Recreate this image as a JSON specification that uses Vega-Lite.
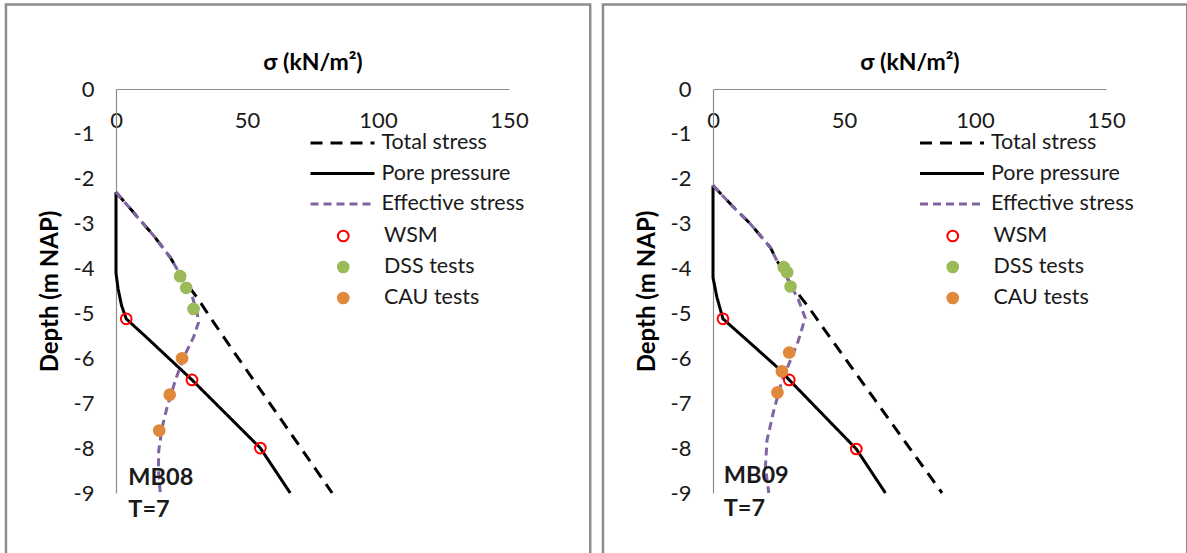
{
  "$schema": "https://vega.github.io/schema/vega-lite/v6.json",
  "padding": {"left": 4, "top": 3, "right": 0, "bottom": 0},
  "background": "white",
  "spacing": 9,
  "config": {"font": "Lato", "view": {"stroke": null},
    "axisX": {"orient": "top", "ticks": false, "tickSize": 0, "grid": false, "domainColor": "#8c8c8c", "domainWidth": 1.2,
      "labelPadding": -31, "labelBaseline": "middle", "labelFlush": false, "labelFontSize": 22, "labelColor": "#1a1a1a", "labelFont": "Lato",
      "titleFontSize": 23, "titleFontWeight": "bold", "titleColor": "#000000", "titleX": 196.5, "titleY": -27, "titleBaseline": "middle", "titleAlign": "center"},
    "axisY": {"orient": "left", "ticks": false, "tickSize": 0, "grid": false, "domainColor": "#8c8c8c", "domainWidth": 1.2,
      "labelPadding": 22, "labelFlush": false, "labelFontSize": 22, "labelColor": "#1a1a1a", "labelFont": "Lato",
      "titleFontSize": 24, "titleFontWeight": "bold", "titleColor": "#000000", "titleX": -66, "titleY": 202, "titleAngle": -90, "titleBaseline": "middle", "titleAlign": "center"},
    "legend": {"title": null, "orient": "none", "clipHeight": 20, "labelFontSize": 21.5, "labelFont": "Lato", "labelColor": "#1a1a1a", "padding": 0, "labelLimit": 300}
  },
  "datasets": {
    "lines": [
      {"p": "MB08", "s": "Total stress", "v": 0, "d": -2.3},
      {"p": "MB08", "s": "Total stress", "v": 6.7, "d": -2.75},
      {"p": "MB08", "s": "Total stress", "v": 14.4, "d": -3.27},
      {"p": "MB08", "s": "Total stress", "v": 20.7, "d": -3.75},
      {"p": "MB08", "s": "Total stress", "v": 25.2, "d": -4.2},
      {"p": "MB08", "s": "Total stress", "v": 30.9, "d": -4.64},
      {"p": "MB08", "s": "Total stress", "v": 36, "d": -5.09},
      {"p": "MB08", "s": "Total stress", "v": 45.5, "d": -5.9},
      {"p": "MB08", "s": "Total stress", "v": 58.2, "d": -6.96},
      {"p": "MB08", "s": "Total stress", "v": 70, "d": -7.95},
      {"p": "MB08", "s": "Total stress", "v": 82.5, "d": -9.0},
      {"p": "MB08", "s": "Pore pressure", "v": 0, "d": -2.3},
      {"p": "MB08", "s": "Pore pressure", "v": 0, "d": -4.1},
      {"p": "MB08", "s": "Pore pressure", "v": 0.8, "d": -4.45},
      {"p": "MB08", "s": "Pore pressure", "v": 2.1, "d": -4.82},
      {"p": "MB08", "s": "Pore pressure", "v": 3.9, "d": -5.12},
      {"p": "MB08", "s": "Pore pressure", "v": 11.6, "d": -5.53},
      {"p": "MB08", "s": "Pore pressure", "v": 29, "d": -6.48},
      {"p": "MB08", "s": "Pore pressure", "v": 55.1, "d": -8.0},
      {"p": "MB08", "s": "Pore pressure", "v": 66.5, "d": -9.0},
      {"p": "MB08", "s": "Effective stress", "v": 0, "d": -2.3},
      {"p": "MB08", "s": "Effective stress", "v": 6.7, "d": -2.75},
      {"p": "MB08", "s": "Effective stress", "v": 14.4, "d": -3.27},
      {"p": "MB08", "s": "Effective stress", "v": 20.7, "d": -3.75},
      {"p": "MB08", "s": "Effective stress", "v": 25.2, "d": -4.2},
      {"p": "MB08", "s": "Effective stress", "v": 29, "d": -4.6},
      {"p": "MB08", "s": "Effective stress", "v": 31, "d": -5.0},
      {"p": "MB08", "s": "Effective stress", "v": 31.5, "d": -5.2},
      {"p": "MB08", "s": "Effective stress", "v": 29.6, "d": -5.53},
      {"p": "MB08", "s": "Effective stress", "v": 25.8, "d": -5.98},
      {"p": "MB08", "s": "Effective stress", "v": 22.6, "d": -6.5},
      {"p": "MB08", "s": "Effective stress", "v": 19.5, "d": -7.09},
      {"p": "MB08", "s": "Effective stress", "v": 17.6, "d": -7.54},
      {"p": "MB08", "s": "Effective stress", "v": 16.3, "d": -8.06},
      {"p": "MB08", "s": "Effective stress", "v": 16.2, "d": -8.5},
      {"p": "MB08", "s": "Effective stress", "v": 16.9, "d": -9.0},
      {"p": "MB09", "s": "Total stress", "v": 0, "d": -2.15},
      {"p": "MB09", "s": "Total stress", "v": 7.3, "d": -2.6},
      {"p": "MB09", "s": "Total stress", "v": 14.2, "d": -3.0},
      {"p": "MB09", "s": "Total stress", "v": 21.9, "d": -3.53},
      {"p": "MB09", "s": "Total stress", "v": 24, "d": -3.78},
      {"p": "MB09", "s": "Total stress", "v": 28.9, "d": -4.27},
      {"p": "MB09", "s": "Total stress", "v": 32.3, "d": -4.55},
      {"p": "MB09", "s": "Total stress", "v": 36.5, "d": -4.86},
      {"p": "MB09", "s": "Total stress", "v": 42.4, "d": -5.35},
      {"p": "MB09", "s": "Total stress", "v": 61.5, "d": -6.9},
      {"p": "MB09", "s": "Total stress", "v": 87.4, "d": -9.0},
      {"p": "MB09", "s": "Pore pressure", "v": 0, "d": -2.15},
      {"p": "MB09", "s": "Pore pressure", "v": 0, "d": -4.2},
      {"p": "MB09", "s": "Pore pressure", "v": 1.5, "d": -4.64},
      {"p": "MB09", "s": "Pore pressure", "v": 3.8, "d": -5.12},
      {"p": "MB09", "s": "Pore pressure", "v": 14.6, "d": -5.68},
      {"p": "MB09", "s": "Pore pressure", "v": 25.3, "d": -6.24},
      {"p": "MB09", "s": "Pore pressure", "v": 29.1, "d": -6.48},
      {"p": "MB09", "s": "Pore pressure", "v": 54.7, "d": -8.02},
      {"p": "MB09", "s": "Pore pressure", "v": 65.8, "d": -9.0},
      {"p": "MB09", "s": "Effective stress", "v": 0, "d": -2.15},
      {"p": "MB09", "s": "Effective stress", "v": 7.3, "d": -2.6},
      {"p": "MB09", "s": "Effective stress", "v": 14.2, "d": -3.0},
      {"p": "MB09", "s": "Effective stress", "v": 21.9, "d": -3.53},
      {"p": "MB09", "s": "Effective stress", "v": 24, "d": -3.78},
      {"p": "MB09", "s": "Effective stress", "v": 28.9, "d": -4.27},
      {"p": "MB09", "s": "Effective stress", "v": 32.7, "d": -4.71},
      {"p": "MB09", "s": "Effective stress", "v": 35.2, "d": -5.1},
      {"p": "MB09", "s": "Effective stress", "v": 32.5, "d": -5.62},
      {"p": "MB09", "s": "Effective stress", "v": 29.5, "d": -6.05},
      {"p": "MB09", "s": "Effective stress", "v": 26.3, "d": -6.5},
      {"p": "MB09", "s": "Effective stress", "v": 23.2, "d": -7.16},
      {"p": "MB09", "s": "Effective stress", "v": 20.6, "d": -7.83},
      {"p": "MB09", "s": "Effective stress", "v": 20.0, "d": -8.43},
      {"p": "MB09", "s": "Effective stress", "v": 21.3, "d": -9.0}
    ],
    "pts": [
      {"p": "MB08", "t": "WSM", "v": 3.9, "d": -5.12},
      {"p": "MB08", "t": "WSM", "v": 29, "d": -6.48},
      {"p": "MB08", "t": "WSM", "v": 55.1, "d": -8.0},
      {"p": "MB08", "t": "DSS tests", "v": 24.5, "d": -4.17},
      {"p": "MB08", "t": "DSS tests", "v": 26.8, "d": -4.43},
      {"p": "MB08", "t": "DSS tests", "v": 29.6, "d": -4.9},
      {"p": "MB08", "t": "CAU tests", "v": 25.2, "d": -6.0},
      {"p": "MB08", "t": "CAU tests", "v": 20.5, "d": -6.81},
      {"p": "MB08", "t": "CAU tests", "v": 16.5, "d": -7.61},
      {"p": "MB09", "t": "WSM", "v": 3.8, "d": -5.12},
      {"p": "MB09", "t": "WSM", "v": 29.1, "d": -6.48},
      {"p": "MB09", "t": "WSM", "v": 54.7, "d": -8.02},
      {"p": "MB09", "t": "DSS tests", "v": 27, "d": -3.97},
      {"p": "MB09", "t": "DSS tests", "v": 28.3, "d": -4.08},
      {"p": "MB09", "t": "DSS tests", "v": 29.6, "d": -4.4},
      {"p": "MB09", "t": "CAU tests", "v": 29.1, "d": -5.87},
      {"p": "MB09", "t": "CAU tests", "v": 26.3, "d": -6.29},
      {"p": "MB09", "t": "CAU tests", "v": 24.6, "d": -6.76}
    ],
    "labels": [
      {"p": "MB08", "txt": "MB08", "v": 4.7, "d": -8.66},
      {"p": "MB08", "txt": "T=7", "v": 4.7, "d": -9.38},
      {"p": "MB09", "txt": "MB09", "v": 4.1, "d": -8.62},
      {"p": "MB09", "txt": "T=7", "v": 4.1, "d": -9.35}
    ],
    "frame": [
      {"x1": -42, "x2": 181, "y1": 1.88, "y2": -10.6}
    ]
  },
  "hconcat": [
    {
      "width": 393,
      "height": 404,
      "layer": [
        {
          "data": {"name": "frame"},
          "mark": {"type": "rect", "filled": false, "stroke": "#8c8c8c", "strokeWidth": 2.5, "clip": false},
          "encoding": {
            "x": {"field": "x1", "type": "quantitative", "scale": {"domain": [0, 150], "nice": false}, "title": "σ (kN/m²)",
              "axis": {"values": [0, 50, 100, 150]}},
            "x2": {"field": "x2"},
            "y": {"field": "y1", "type": "quantitative", "scale": {"domain": [-9, 0], "nice": false}, "title": "Depth (m NAP)",
              "axis": {"values": [0, -1, -2, -3, -4, -5, -6, -7, -8, -9], "labelExpr": "'' + datum.value"}},
            "y2": {"field": "y2"}
          }
        },
        {
          "data": {"name": "lines"},
          "transform": [{"filter": "datum.p === 'MB08'"}],
          "mark": {"type": "line", "strokeWidth": 3},
          "encoding": {
            "x": {"field": "v", "type": "quantitative", "scale": {"domain": [0, 150], "nice": false}, "title": "σ (kN/m²)",
              "axis": {"values": [0, 50, 100, 150]}},
            "y": {"field": "d", "type": "quantitative", "scale": {"domain": [-9, 0], "nice": false}, "title": "Depth (m NAP)",
              "axis": {"values": [0, -1, -2, -3, -4, -5, -6, -7, -8, -9], "labelExpr": "'' + datum.value"}},
            "order": {"field": "d", "sort": "descending"},
            "color": {"field": "s", "type": "nominal",
              "scale": {"domain": ["Total stress", "Pore pressure", "Effective stress"], "range": ["#000000", "#000000", "#8064A2"]},
              "legend": {"legendX": 193, "legendY": 44, "symbolType": "stroke", "symbolSize": 4096, "symbolStrokeWidth": 3, "rowPadding": 8.5, "labelOffset": 5.5}},
            "strokeDash": {"field": "s", "type": "nominal",
              "scale": {"domain": ["Total stress", "Pore pressure", "Effective stress"], "range": [[12, 8], [1, 0], [8, 5]]},
              "legend": {"legendX": 193, "legendY": 44, "symbolType": "stroke", "symbolSize": 4096, "symbolStrokeWidth": 3, "rowPadding": 8.5, "labelOffset": 5.5}}
          }
        },
        {
          "data": {"name": "pts"},
          "transform": [{"filter": "datum.p === 'MB08'"}],
          "mark": {"type": "point", "filled": true, "size": 115, "strokeWidth": 2, "opacity": 1},
          "encoding": {
            "x": {"field": "v", "type": "quantitative", "title": "σ (kN/m²)", "axis": {"values": [0, 50, 100, 150]}},
            "y": {"field": "d", "type": "quantitative", "title": "Depth (m NAP)", "axis": {"values": [0, -1, -2, -3, -4, -5, -6, -7, -8, -9], "labelExpr": "'' + datum.value"}},
            "fill": {"field": "t", "type": "nominal",
              "scale": {"domain": ["WSM", "DSS tests", "CAU tests"], "range": ["transparent", "#9BBB59", "#E0893C"]},
              "legend": {"legendX": 216.5, "legendY": 137, "symbolType": "circle", "symbolSize": 115, "symbolStrokeWidth": 2, "rowPadding": 9, "labelOffset": 30}},
            "stroke": {"field": "t", "type": "nominal",
              "scale": {"domain": ["WSM", "DSS tests", "CAU tests"], "range": ["#FF0000", "#9BBB59", "#E0893C"]},
              "legend": {"legendX": 216.5, "legendY": 137, "symbolType": "circle", "symbolSize": 115, "symbolStrokeWidth": 2, "rowPadding": 9, "labelOffset": 30}}
          }
        },
        {
          "data": {"name": "labels"},
          "transform": [{"filter": "datum.p === 'MB08'"}],
          "mark": {"type": "text", "align": "left", "baseline": "middle", "fontSize": 23.5, "fontWeight": "bold", "font": "Lato", "color": "#1a1a1a"},
          "encoding": {
            "x": {"field": "v", "type": "quantitative", "title": "σ (kN/m²)", "axis": {"values": [0, 50, 100, 150]}},
            "y": {"field": "d", "type": "quantitative", "title": "Depth (m NAP)", "axis": {"values": [0, -1, -2, -3, -4, -5, -6, -7, -8, -9], "labelExpr": "'' + datum.value"}},
            "text": {"field": "txt"}
          }
        }
      ]
    },
    {
      "width": 393,
      "height": 404,
      "layer": [
        {
          "data": {"name": "frame"},
          "mark": {"type": "rect", "filled": false, "stroke": "#8c8c8c", "strokeWidth": 2.5, "clip": false},
          "encoding": {
            "x": {"field": "x1", "type": "quantitative", "scale": {"domain": [0, 150], "nice": false}, "title": "σ (kN/m²)",
              "axis": {"values": [0, 50, 100, 150]}},
            "x2": {"field": "x2"},
            "y": {"field": "y1", "type": "quantitative", "scale": {"domain": [-9, 0], "nice": false}, "title": "Depth (m NAP)",
              "axis": {"values": [0, -1, -2, -3, -4, -5, -6, -7, -8, -9], "labelExpr": "'' + datum.value"}},
            "y2": {"field": "y2"}
          }
        },
        {
          "data": {"name": "lines"},
          "transform": [{"filter": "datum.p === 'MB09'"}],
          "mark": {"type": "line", "strokeWidth": 3},
          "encoding": {
            "x": {"field": "v", "type": "quantitative", "scale": {"domain": [0, 150], "nice": false}, "title": "σ (kN/m²)",
              "axis": {"values": [0, 50, 100, 150]}},
            "y": {"field": "d", "type": "quantitative", "scale": {"domain": [-9, 0], "nice": false}, "title": "Depth (m NAP)",
              "axis": {"values": [0, -1, -2, -3, -4, -5, -6, -7, -8, -9], "labelExpr": "'' + datum.value"}},
            "order": {"field": "d", "sort": "descending"},
            "color": {"field": "s", "type": "nominal",
              "scale": {"domain": ["Total stress", "Pore pressure", "Effective stress"], "range": ["#000000", "#000000", "#8064A2"]},
              "legend": {"legendX": 205.5, "legendY": 44, "symbolType": "stroke", "symbolSize": 4096, "symbolStrokeWidth": 3, "rowPadding": 8.5, "labelOffset": 5.5}},
            "strokeDash": {"field": "s", "type": "nominal",
              "scale": {"domain": ["Total stress", "Pore pressure", "Effective stress"], "range": [[12, 8], [1, 0], [8, 5]]},
              "legend": {"legendX": 205.5, "legendY": 44, "symbolType": "stroke", "symbolSize": 4096, "symbolStrokeWidth": 3, "rowPadding": 8.5, "labelOffset": 5.5}}
          }
        },
        {
          "data": {"name": "pts"},
          "transform": [{"filter": "datum.p === 'MB09'"}],
          "mark": {"type": "point", "filled": true, "size": 115, "strokeWidth": 2, "opacity": 1},
          "encoding": {
            "x": {"field": "v", "type": "quantitative", "title": "σ (kN/m²)", "axis": {"values": [0, 50, 100, 150]}},
            "y": {"field": "d", "type": "quantitative", "title": "Depth (m NAP)", "axis": {"values": [0, -1, -2, -3, -4, -5, -6, -7, -8, -9], "labelExpr": "'' + datum.value"}},
            "fill": {"field": "t", "type": "nominal",
              "scale": {"domain": ["WSM", "DSS tests", "CAU tests"], "range": ["transparent", "#9BBB59", "#E0893C"]},
              "legend": {"legendX": 229, "legendY": 137, "symbolType": "circle", "symbolSize": 115, "symbolStrokeWidth": 2, "rowPadding": 9, "labelOffset": 30}},
            "stroke": {"field": "t", "type": "nominal",
              "scale": {"domain": ["WSM", "DSS tests", "CAU tests"], "range": ["#FF0000", "#9BBB59", "#E0893C"]},
              "legend": {"legendX": 229, "legendY": 137, "symbolType": "circle", "symbolSize": 115, "symbolStrokeWidth": 2, "rowPadding": 9, "labelOffset": 30}}
          }
        },
        {
          "data": {"name": "labels"},
          "transform": [{"filter": "datum.p === 'MB09'"}],
          "mark": {"type": "text", "align": "left", "baseline": "middle", "fontSize": 23.5, "fontWeight": "bold", "font": "Lato", "color": "#1a1a1a"},
          "encoding": {
            "x": {"field": "v", "type": "quantitative", "title": "σ (kN/m²)", "axis": {"values": [0, 50, 100, 150]}},
            "y": {"field": "d", "type": "quantitative", "title": "Depth (m NAP)", "axis": {"values": [0, -1, -2, -3, -4, -5, -6, -7, -8, -9], "labelExpr": "'' + datum.value"}},
            "text": {"field": "txt"}
          }
        }
      ]
    }
  ],
  "resolve": {"scale": {"x": "independent", "y": "independent", "color": "independent", "strokeDash": "independent", "fill": "independent", "stroke": "independent"},
              "legend": {"color": "independent", "strokeDash": "independent", "fill": "independent", "stroke": "independent"}}
}
